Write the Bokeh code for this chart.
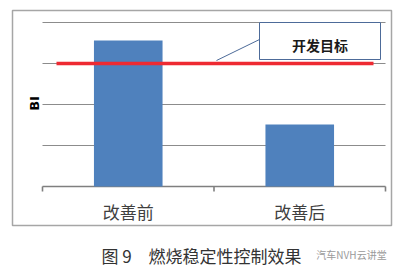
import math
from bokeh.plotting import figure
from bokeh.models import Range1d
from bokeh.core.properties import value
from bokeh.embed import file_html
from bokeh.resources import INLINE

# ---- data ----
categories = ["改善前", "改善后"]
bi_values = [3.56, 1.51]
target_value = 3.0
target_label = "开发目标"
y_ticks = [0, 1, 2, 3, 4]
y_label = "BI"
caption = "图 9　燃烧稳定性控制效果"
watermark = "汽车NVH云讲堂"

CJK = "Noto Sans CJK SC"
W, H = 397, 272

# layout: plot area in canvas pixels
PLOT_LEFT, PLOT_RIGHT = 42, 385
BASE_Y, TOP_Y = 186, 22
n = len(categories)
ux = (PLOT_RIGHT - PLOT_LEFT) / n          # px per category slot
uy = (BASE_Y - TOP_Y) / max(y_ticks)       # px per BI unit


def dx(px):
    return (px - PLOT_LEFT) / ux


def dy(py):
    return (BASE_Y - py) / uy


p = figure(width=W, height=H,
           x_range=Range1d(dx(0), dx(W)), y_range=Range1d(dy(H), dy(0)),
           x_axis_location=None, y_axis_location=None,
           output_backend="svg", toolbar_location=None,
           min_border=0)
p.min_border_left = p.min_border_right = p.min_border_top = p.min_border_bottom = 0
p.outline_line_color = None
p.background_fill_color = "white"
p.border_fill_color = "white"
p.grid.visible = False

# outer border
p.quad(left=[dx(12)], right=[dx(391)], top=[dy(10)], bottom=[dy(225)],
       fill_color=None, line_color="#A6A6A6", line_width=1.5)

# horizontal grid lines
grid = [t for t in y_ticks if t != 0]
p.segment(x0=[0] * len(grid), x1=[n] * len(grid), y0=grid, y1=grid,
          line_color="#8C8C8C", line_width=1.2)
# baseline + category boundary ticks
p.segment(x0=[0], x1=[n], y0=[0], y1=[0], line_color="#7F7F7F", line_width=1.6)
bounds = list(range(n + 1))
p.segment(x0=bounds, x1=bounds, y0=[0] * len(bounds), y1=[dy(BASE_Y + 5)] * len(bounds),
          line_color="#7F7F7F", line_width=1.6)

# bars
xc = [i + 0.5 for i in range(n)]
p.vbar(x=xc, top=bi_values, width=0.4, bottom=0,
       fill_color="#4F81BD", line_color=None)

# category labels
p.text(x=xc, y=[dy(210.5)] * n, text=categories, text_font=value(CJK),
       text_font_size="17px", text_color="#404040",
       text_align="center", text_baseline="middle")

# y label
p.text(x=[dx(34)], y=[dy(103)], text=[y_label], angle=math.pi / 2,
       text_font=value("DejaVu Sans"), text_font_style="bold",
       text_font_size="13px", text_color="#000000",
       text_align="center", text_baseline="middle")

# target line
p.segment(x0=[dx(56)], x1=[dx(373)], y0=[target_value], y1=[target_value],
          line_color="#EE2A32", line_width=3.5)

# callout
p.segment(x0=[dx(216)], y0=[dy(60)], x1=[dx(259)], y1=[dy(39)],
          line_color="#4D6B99", line_width=1)
p.quad(left=[dx(259)], right=[dx(380)], bottom=[dy(59)], top=[dy(22)],
       fill_color="white", line_color="#4D6B99", line_width=1)
p.text(x=[dx(319.5)], y=[dy(44)], text=[target_label], text_font=value(CJK),
       text_font_style="bold", text_font_size="14px", text_color="#1a1a1a",
       text_align="center", text_baseline="middle")

# caption + watermark
p.text(x=[dx(201)], y=[dy(255)], text=[caption], text_font=value(CJK),
       text_font_size="17px", text_color="#333333",
       text_align="center", text_baseline="middle")
p.text(x=[dx(351)], y=[dy(254)], text=[watermark], text_font=value(CJK),
       text_font_size="10px", text_color="#9A9A9A",
       text_align="center", text_baseline="middle")

open("out.html", "w").write(file_html(p, INLINE))
